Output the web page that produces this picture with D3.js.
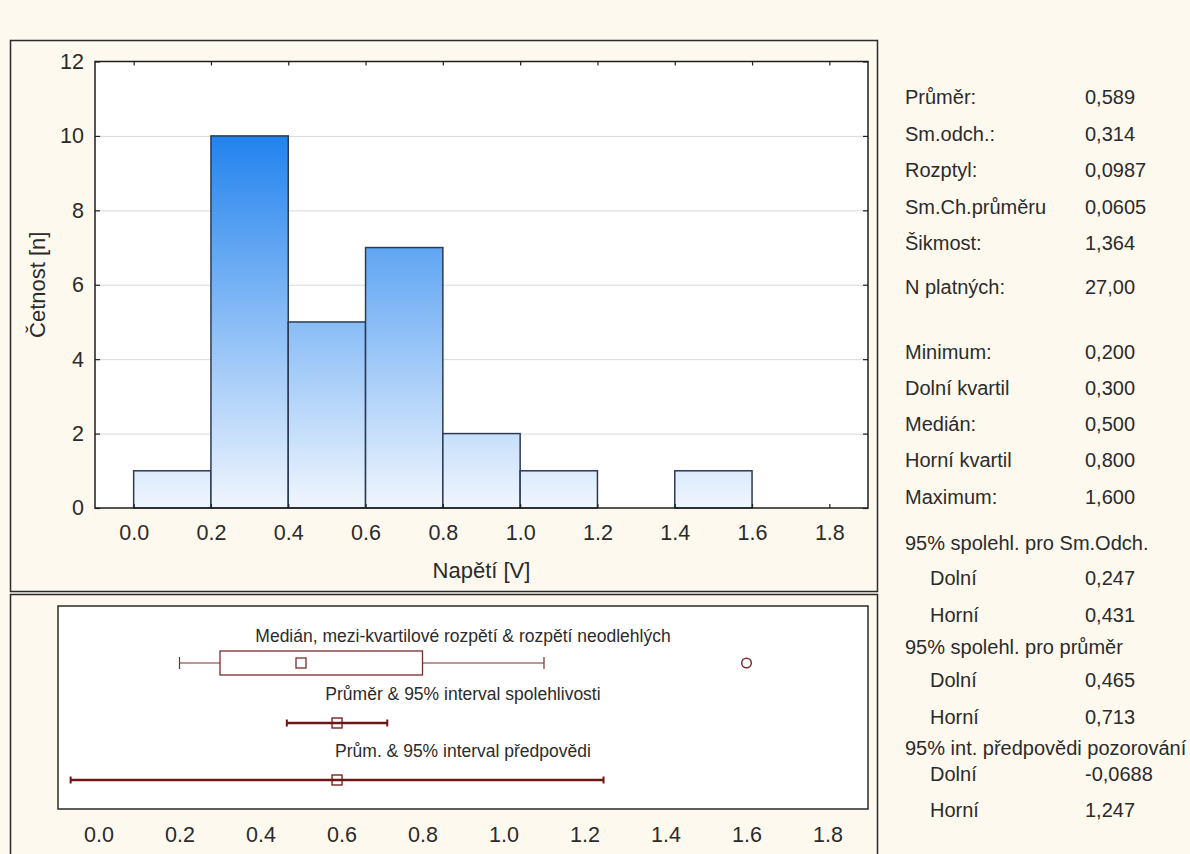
<!DOCTYPE html>
<html>
<head>
<meta charset="utf-8">
<script src="https://cdn.jsdelivr.net/npm/d3@7"></script>
<style>
  html, body { margin: 0; padding: 0; background: #fdf9ef; }
  svg { display: block; }
  text { font-family: "Liberation Sans", Arial, sans-serif; fill: #2b2b2b; }
</style>
</head>
<body>
<svg id="chart" width="1190" height="854"></svg>
<script>
// ---- Data -----------------------------------------------------------
// Histogram of voltage: bin lower edges, bin upper edges and counts
const binStarts = [0.0, 0.2, 0.4, 0.6, 0.8, 1.0, 1.2, 1.4];
const binEnds   = [0.2, 0.4, 0.6, 0.8, 1.0, 1.2, 1.4, 1.6];
const binCounts = [1, 10, 5, 7, 2, 1, 0, 1];

const xTicks = [0.0, 0.2, 0.4, 0.6, 0.8, 1.0, 1.2, 1.4, 1.6, 1.8];
const yTicks = [0, 2, 4, 6, 8, 10, 12];

// Box plot summaries
const boxStats   = { min: 0.2, q1: 0.3, median: 0.5, q3: 0.8, whiskerHigh: 1.1 };
const outliers   = [1.6];
const meanValue  = 0.589;
const meanCI     = [0.465, 0.713];
const predInt    = [-0.0688, 1.247];
const boxTitles  = [
  "Medián, mezi-kvartilové rozpětí & rozpětí neodlehlých",
  "Průměr & 95% interval spolehlivosti",
  "Prům. & 95% interval předpovědi"
];

// Descriptive statistics table (label, value, indented sub-row?)
const statLabels = [
  "Průměr:", "Sm.odch.:", "Rozptyl:", "Sm.Ch.průměru", "Šikmost:",
  "N platných:",
  "Minimum:", "Dolní kvartil", "Medián:", "Horní kvartil", "Maximum:",
  "95% spolehl. pro Sm.Odch.", "Dolní", "Horní",
  "95% spolehl. pro průměr", "Dolní", "Horní",
  "95% int. předpovědi pozorování", "Dolní", "Horní"
];
const statValues = [
  "0,589", "0,314", "0,0987", "0,0605", "1,364",
  "27,00",
  "0,200", "0,300", "0,500", "0,800", "1,600",
  "", "0,247", "0,431",
  "", "0,465", "0,713",
  "", "-0,0688", "1,247"
];
const statIndent = [
  false, false, false, false, false,
  false,
  false, false, false, false, false,
  false, true, true,
  false, true, true,
  false, true, true
];

// ---- Layout ---------------------------------------------------------
const svg = d3.select("#chart");
const darkRed = "#6f1616";
const boxRed = "#7c2c2c";

// panel frames
svg.append("rect").attr("x", 10.5).attr("y", 40.5).attr("width", 867).attr("height", 551)
  .attr("fill", "#fdf9ef").attr("stroke", "#2a2a2a").attr("stroke-width", 1.5);
svg.append("rect").attr("x", 10.5).attr("y", 594.5).attr("width", 867).attr("height", 280)
  .attr("fill", "#fdf9ef").attr("stroke", "#2a2a2a").attr("stroke-width", 1.5);

// ---- Histogram ------------------------------------------------------
const hp = { left: 95, right: 868, top: 61.5, bottom: 508 };
const x = d3.scaleLinear().domain([-0.1, 1.9]).range([hp.left, hp.right]);
const y = d3.scaleLinear().domain([0, 12]).range([hp.bottom, hp.top]);

const defs = svg.append("defs");
const grad = defs.append("linearGradient").attr("id", "barFill")
  .attr("gradientUnits", "userSpaceOnUse")
  .attr("x1", 0).attr("x2", 0).attr("y1", y(0)).attr("y2", y(10));
grad.append("stop").attr("offset", 0).attr("stop-color", "#f0f6fe");
grad.append("stop").attr("offset", 1).attr("stop-color", "#2283ee");

const hist = svg.append("g");
hist.append("rect").attr("x", hp.left).attr("y", hp.top)
  .attr("width", hp.right - hp.left).attr("height", hp.bottom - hp.top).attr("fill", "#ffffff");

// horizontal grid lines
hist.append("g").selectAll("line").data(yTicks.filter(d => d > 0 && d < 12)).join("line")
  .attr("x1", hp.left).attr("x2", hp.right)
  .attr("y1", d => y(d) + 0.5).attr("y2", d => y(d) + 0.5)
  .attr("stroke", "#d9d9d9").attr("stroke-width", 1);

// bars
const bins = binStarts.map((s, i) => ({ x0: s, x1: binEnds[i], n: binCounts[i] }));
hist.append("g").selectAll("rect").data(bins.filter(b => b.n > 0)).join("rect")
  .attr("x", b => x(b.x0)).attr("y", b => y(b.n))
  .attr("width", b => x(b.x1) - x(b.x0)).attr("height", b => y(0) - y(b.n))
  .attr("fill", "url(#barFill)").attr("stroke", "#2b3a55").attr("stroke-width", 1.5);

// axes with inward ticks
const fmt1 = d3.format(".1f");
const axB = hist.append("g").attr("transform", `translate(0,${hp.bottom})`)
  .call(d3.axisBottom(x).tickValues(xTicks).tickFormat(fmt1).tickSize(-4).tickPadding(17));
const axT = hist.append("g").attr("transform", `translate(0,${hp.top})`)
  .call(d3.axisTop(x).tickValues(xTicks).tickFormat("").tickSize(-4));
const axL = hist.append("g").attr("transform", `translate(${hp.left},0)`)
  .call(d3.axisLeft(y).tickValues(yTicks).tickFormat(d3.format("d")).tickSize(-5).tickPadding(11));
const axR = hist.append("g").attr("transform", `translate(${hp.right},0)`)
  .call(d3.axisRight(y).tickValues(yTicks).tickFormat("").tickSize(-5));
[axB, axT, axL, axR].forEach(g => {
  g.select(".domain").remove();
  g.selectAll(".tick line").attr("stroke", "#222").attr("stroke-width", 1.2);
  g.selectAll("text").attr("font-size", 21.5).attr("fill", "#2b2b2b")
    .attr("font-family", "\"Liberation Sans\", Arial, sans-serif");
});

hist.append("rect").attr("x", hp.left).attr("y", hp.top)
  .attr("width", hp.right - hp.left).attr("height", hp.bottom - hp.top)
  .attr("fill", "none").attr("stroke", "#1e1e1e").attr("stroke-width", 1.5);

hist.append("text").attr("x", (hp.left + hp.right) / 2).attr("y", 570)
  .attr("text-anchor", "middle").attr("dominant-baseline", "central")
  .attr("font-size", 22).text("Napětí [V]");
hist.append("text").attr("transform", `translate(37,${(hp.top + hp.bottom) / 2}) rotate(-90)`)
  .attr("text-anchor", "middle").attr("dominant-baseline", "central")
  .attr("font-size", 22).text("Četnost [n]");

// ---- Box plot panel --------------------------------------------------
const bp = { left: 58, right: 868, top: 606, bottom: 809 };
const xb = d3.scaleLinear().domain([-0.1, 1.9]).range([bp.left, bp.right]);
const box = svg.append("g");
box.append("rect").attr("x", bp.left).attr("y", bp.top)
  .attr("width", bp.right - bp.left).attr("height", bp.bottom - bp.top)
  .attr("fill", "#ffffff").attr("stroke", "#2a2a2a").attr("stroke-width", 1.5);

const rowY = [663, 723, 780];
const titleY = [636, 694, 751];
box.append("g").selectAll("text").data(boxTitles).join("text")
  .attr("x", (bp.left + bp.right) / 2).attr("y", (d, i) => titleY[i])
  .attr("text-anchor", "middle").attr("dominant-baseline", "central")
  .attr("font-size", 17.5).text(d => d);

// row 1: median, IQR box and non-outlier range
const r1 = rowY[0];
const whiskers = [[boxStats.min, boxStats.q1], [boxStats.q3, boxStats.whiskerHigh]];
box.append("g").selectAll("line").data(whiskers).join("line")
  .attr("x1", d => xb(d[0])).attr("x2", d => xb(d[1]))
  .attr("y1", r1).attr("y2", r1).attr("stroke", boxRed).attr("stroke-width", 1.2);
box.append("g").selectAll("line").data([boxStats.min, boxStats.whiskerHigh]).join("line")
  .attr("x1", d => xb(d)).attr("x2", d => xb(d))
  .attr("y1", r1 - 6).attr("y2", r1 + 6).attr("stroke", boxRed).attr("stroke-width", 1.2);
box.append("rect").attr("x", xb(boxStats.q1)).attr("y", r1 - 12)
  .attr("width", xb(boxStats.q3) - xb(boxStats.q1)).attr("height", 24)
  .attr("fill", "#ffffff").attr("stroke", boxRed).attr("stroke-width", 1.3);
box.append("rect").attr("x", xb(boxStats.median) - 5).attr("y", r1 - 5)
  .attr("width", 10).attr("height", 10)
  .attr("fill", "none").attr("stroke", boxRed).attr("stroke-width", 1.3);
box.append("g").selectAll("circle").data(outliers).join("circle")
  .attr("cx", d => xb(d)).attr("cy", r1).attr("r", 4.8)
  .attr("fill", "none").attr("stroke", boxRed).attr("stroke-width", 1.5);

// rows 2 and 3: mean with confidence / prediction interval
function intervalRow(yy, lo, hi) {
  const g = box.append("g");
  g.append("line").attr("x1", xb(lo)).attr("x2", xb(hi)).attr("y1", yy).attr("y2", yy)
    .attr("stroke", darkRed).attr("stroke-width", 2.6);
  g.selectAll("line.cap").data([lo, hi]).join("line").attr("class", "cap")
    .attr("x1", d => xb(d)).attr("x2", d => xb(d)).attr("y1", yy - 3.5).attr("y2", yy + 3.5)
    .attr("stroke", darkRed).attr("stroke-width", 2);
  g.append("rect").attr("x", xb(meanValue) - 5).attr("y", yy - 5)
    .attr("width", 10).attr("height", 10)
    .attr("fill", "none").attr("stroke", darkRed).attr("stroke-width", 1.3);
}
intervalRow(rowY[1], meanCI[0], meanCI[1]);
intervalRow(rowY[2], predInt[0], predInt[1]);

const axBox = box.append("g").attr("transform", `translate(0,${bp.bottom})`)
  .call(d3.axisBottom(xb).tickValues(xTicks).tickFormat(fmt1).tickSize(0).tickPadding(18));
axBox.select(".domain").remove();
axBox.selectAll("text").attr("font-size", 21.5).attr("fill", "#2b2b2b")
  .attr("font-family", "\"Liberation Sans\", Arial, sans-serif");

// ---- Statistics table -----------------------------------------------
const statLineY = [97, 133.5, 170, 206.5, 243, 287, 351.5, 388, 424, 460, 497,
                   543, 578, 615, 647, 680, 717, 748, 774, 810];
const stats = svg.append("g").attr("font-size", 20);
stats.selectAll("text.lbl").data(statLabels).join("text").attr("class", "lbl")
  .attr("x", (d, i) => statIndent[i] ? 930 : 905)
  .attr("y", (d, i) => statLineY[i])
  .attr("dominant-baseline", "central").text(d => d);
stats.selectAll("text.val").data(statValues).join("text").attr("class", "val")
  .attr("x", 1085).attr("y", (d, i) => statLineY[i])
  .attr("dominant-baseline", "central").text(d => d);
</script>
</body>
</html>
